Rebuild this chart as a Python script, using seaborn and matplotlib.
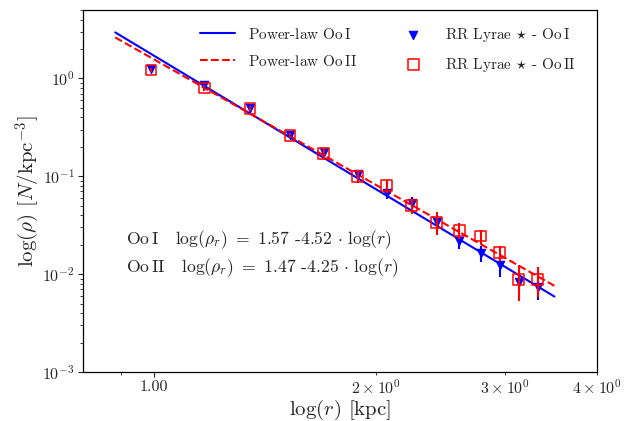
import numpy as np
import pandas as pd
import matplotlib
matplotlib.use("Agg")
import matplotlib.pyplot as plt
import seaborn as sns
from matplotlib.ticker import FixedLocator, FixedFormatter

# ---- data ----
r_kpc = [0.99, 1.17, 1.35, 1.53, 1.70, 1.89, 2.07, 2.24, 2.42, 2.60, 2.78, 2.95, 3.13, 3.32]
rho_ooI = [1.25, 0.85, 0.50, 0.265, 0.175, 0.105, 0.067, 0.053, 0.034, 0.022, 0.0164, 0.0123, 0.0083, 0.0074]
err_ooI = [0.05, 0.04, 0.02, 0.012, 0.012, 0.012, 0.008, 0.008, 0.006, 0.004, 0.003, 0.003, 0.003, 0.002]
rho_ooII = [1.22, 0.80, 0.49, 0.26, 0.17, 0.10, 0.080, 0.050, 0.034, 0.028, 0.0245, 0.0165, 0.0088, 0.0088]
err_ooII = [0.06, 0.05, 0.03, 0.015, 0.025, 0.015, 0.012, 0.009, 0.009, 0.005, 0.004, 0.003, 0.0035, 0.003]

# power-law fits: rho = amp * r**slope, drawn over r range
fit_range = [0.885, 3.50]
amp_ooI, slope_ooI = 1.70, -4.52
amp_ooII, slope_ooII = 1.56, -4.25

sns.set_style("ticks")
plt.rcParams.update({
    "font.family": "serif",
    "font.serif": ["cmr10"],
    "mathtext.fontset": "cm",
    "axes.formatter.use_mathtext": True,
    "axes.unicode_minus": False,
    "xtick.direction": "out",
    "ytick.direction": "out",
})

fig = plt.figure(figsize=(6.35, 4.21), dpi=100)
ax = fig.add_axes([0.1307, 0.1164, 0.8095, 0.8598])

rr = np.geomspace(fit_range[0], fit_range[1], 100)
lines = pd.DataFrame({
    "r": np.concatenate([rr, rr]),
    "rho": np.concatenate([amp_ooI * rr ** slope_ooI, amp_ooII * rr ** slope_ooII]),
    "pop": ["I"] * len(rr) + ["II"] * len(rr),
})
sns.lineplot(data=lines[lines["pop"] == "I"], x="r", y="rho", color="blue", lw=1.5,
             ax=ax, label=r"Power-law Oo$\,$I", zorder=2)
sns.lineplot(data=lines[lines["pop"] == "II"], x="r", y="rho", color="red", lw=1.5,
             linestyle="--", ax=ax, label=r"Power-law Oo$\,$II", zorder=2)

ax.errorbar(r_kpc, rho_ooI, yerr=err_ooI, fmt="none", ecolor="blue", elinewidth=1.5, zorder=3)
sns.scatterplot(x=r_kpc, y=rho_ooI, marker="v", s=36, color="blue", edgecolor="blue",
                linewidth=0.8, ax=ax, label=r"RR Lyrae $\star$ - Oo$\,$I", zorder=4)
ax.errorbar(r_kpc, rho_ooII, yerr=err_ooII, fmt="none", ecolor="red", elinewidth=1.5, zorder=5)
sns.scatterplot(x=r_kpc, y=rho_ooII, marker="s", s=60, ax=ax, zorder=6,
                label=r"RR Lyrae $\star$ - Oo$\,$II")
coll = ax.collections[-1]
coll.set_facecolor("none")
coll.set_edgecolor("red")
coll.set_linewidth(1.1)

ax.set_xscale("log")
ax.set_yscale("log")
ax.set_xlim(0.8, 4.0)
ax.set_ylim(1e-3, 5)

ax.xaxis.set_major_locator(FixedLocator([1.0]))
ax.xaxis.set_major_formatter(FixedFormatter(["1.00"]))
ax.xaxis.set_minor_locator(FixedLocator([0.9, 2.0, 3.0, 4.0]))
ax.xaxis.set_minor_formatter(FixedFormatter(["", r"$2\times10^{0}$", r"$3\times10^{0}$", r"$4\times10^{0}$"]))
ax.tick_params(axis="both", which="both", labelsize=11.5, pad=2.5)

ax.set_xlabel(r"$\log(r)$ [kpc]", fontsize=15, labelpad=1)
ax.set_ylabel(r"$\log(\rho)$ $[N/\mathrm{kpc}^{-3}]$", fontsize=15, labelpad=0)

ax.text(0.084, 0.365, r"Oo$\,$I   $\log(\rho_r)\ =\ 1.57$ -4.52 $\cdot\ \log(r)$",
        transform=ax.transAxes, fontsize=12.7, va="center", ha="left")
ax.text(0.084, 0.287, r"Oo$\,$II   $\log(\rho_r)\ =\ 1.47$ -4.25 $\cdot\ \log(r)$",
        transform=ax.transAxes, fontsize=12.7, va="center", ha="left")

h, l = ax.get_legend_handles_labels()
ax.legend(h, l, ncol=2, loc="upper right", frameon=False, fontsize=11,
          handlelength=2.3, handletextpad=0.9, columnspacing=2.5, labelspacing=0.8,
          bbox_to_anchor=(0.985, 0.995))

for s in ax.spines.values():
    s.set_color("black")
    s.set_linewidth(0.9)

fig.savefig("out.png", dpi=100)
